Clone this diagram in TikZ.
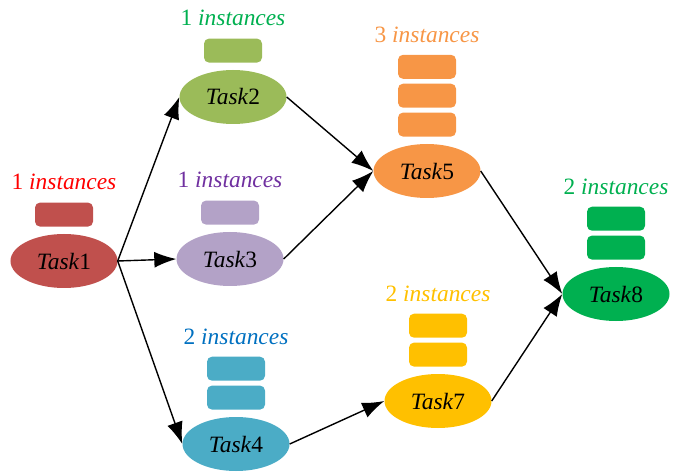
\documentclass[tikz,border=0pt]{standalone}
\usepackage{fontspec}
\setmainfont{Liberation Serif}
\usetikzlibrary{positioning,shapes,arrows.meta}

\definecolor{taskA}{HTML}{C0504D}
\definecolor{taskB}{HTML}{9BBB59}
\definecolor{taskC}{HTML}{B3A2C7}
\definecolor{taskD}{HTML}{4BACC6}
\definecolor{taskE}{HTML}{F79646}
\definecolor{taskG}{HTML}{FFC000}
\definecolor{taskH}{HTML}{00B050}
\definecolor{countA}{HTML}{FF0000}
\definecolor{countC}{HTML}{7030A0}
\definecolor{countD}{HTML}{0070C0}

\begin{document}
\begin{tikzpicture}[x=1bp, y=-1bp, node distance=7bp,
    task/.style={ellipse, minimum width=107bp, minimum height=54bp, inner sep=0pt, font=\rmfamily\fontsize{23.5}{27}\selectfont},
    inst/.style={rectangle, rounded corners=5bp, minimum width=58bp, minimum height=24bp, inner sep=0pt},
    count/.style={inner sep=0pt, font=\rmfamily\fontsize{23.5}{27}\selectfont},
    arrow/.style={-{Latex[length=22bp,width=16bp]}, line width=1.4bp}]

    \useasboundingbox (0,0) rectangle (673,474);

    % Tasks
    \node[task, fill=taskA] (t1) at (64,261) {\textit{Task}1};
    \node[task, fill=taskB] (t2) at (233,97) {\textit{Task}2};
    \node[task, fill=taskC] (t3) at (230,259) {\textit{Task}3};
    \node[task, fill=taskD] (t4) at (236,444) {\textit{Task}4};
    \node[task, fill=taskE] (t5) at (427,171) {\textit{Task}5};
    \node[task, fill=taskG] (t7) at (438,401) {\textit{Task}7};
    \node[task, fill=taskH] (t8) at (616,294) {\textit{Task}8};

    % Instances of Task1
    \node[inst, fill=taskA, above=of t1] (i1a) {};
    \node[count, text=countA, above=12bp of i1a] (n1) {1 \textit{instances}};

    % Instances of Task2
    \node[inst, fill=taskB, above=of t2] (i2a) {};
    \node[count, text=taskH, above=12bp of i2a] (n2) {1 \textit{instances}};

    % Instances of Task3
    \node[inst, fill=taskC, above=of t3] (i3a) {};
    \node[count, text=countC, above=12bp of i3a] (n3) {1 \textit{instances}};

    % Instances of Task4
    \node[inst, fill=taskD, above=of t4] (i4a) {};
    \node[inst, fill=taskD, above=4.5bp of i4a] (i4b) {};
    \node[count, text=countD, above=12bp of i4b] (n4) {2 \textit{instances}};

    % Instances of Task5
    \node[inst, fill=taskE, above=of t5] (i5a) {};
    \node[inst, fill=taskE, above=4.5bp of i5a] (i5b) {};
    \node[inst, fill=taskE, above=4.5bp of i5b] (i5c) {};
    \node[count, text=taskE, above=12bp of i5c] (n5) {3 \textit{instances}};

    % Instances of Task7
    \node[inst, fill=taskG, above=of t7] (i7a) {};
    \node[inst, fill=taskG, above=4.5bp of i7a] (i7b) {};
    \node[count, text=taskG, above=12bp of i7b] (n7) {2 \textit{instances}};

    % Instances of Task8
    \node[inst, fill=taskH, above=of t8] (i8a) {};
    \node[inst, fill=taskH, above=4.5bp of i8a] (i8b) {};
    \node[count, text=taskH, above=12bp of i8b] (n8) {2 \textit{instances}};

    % Connect with arrows
    \draw[arrow] (t1.east) -- (t2.west);
    \draw[arrow] (t1.east) -- (t3.west);
    \draw[arrow] (t1.east) -- (t4.west);
    \draw[arrow] (t2.east) -- (t5.west);
    \draw[arrow] (t3.east) -- (t5.west);
    \draw[arrow] (t4.east) -- (t7.west);
    \draw[arrow] (t5.east) -- (t8.west);
    \draw[arrow] (t7.east) -- (t8.west);
\end{tikzpicture}
\end{document}
